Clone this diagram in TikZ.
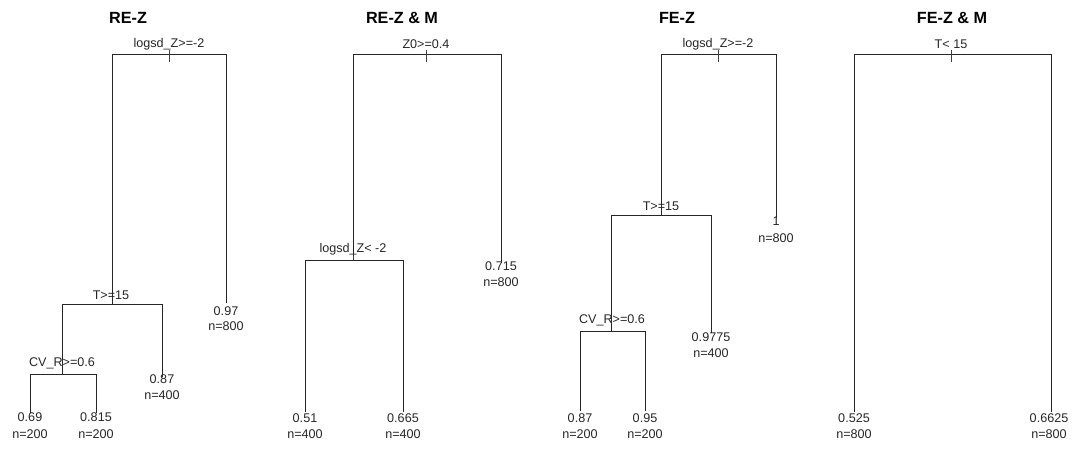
\documentclass[tikz,border=0pt]{standalone}
\usepackage{fontspec}
\setmainfont{Liberation Sans}
\begin{document}
\begin{tikzpicture}[x=1pt,y=-1pt,
  lbl/.style={font=\fontsize{12.6}{14}\selectfont, inner sep=0pt, anchor=base, text=black!85},
  ttl/.style={font=\bfseries\fontsize{16.2}{18}\selectfont, inner sep=0pt, anchor=base},
  branch/.style={draw=black!85, line width=1pt},
  tick/.style={draw=black!75, line width=1pt}]
\useasboundingbox (0,0) rectangle (1075,448);

% ---------- Tree 1: RE-Z ----------
\node[ttl] (t1) at (128,23) {RE-Z};
\coordinate (a1) at (169,54);
\coordinate (a1l) at (112,54); \coordinate (a1r) at (226,54);
\coordinate (b1) at (112,304); \coordinate (b1l) at (62,304); \coordinate (b1r) at (162,304);
\coordinate (c1) at (62,374); \coordinate (c1l) at (30,374); \coordinate (c1r) at (96,374);
\coordinate (l11) at (30,413); \coordinate (l12) at (96,413);
\coordinate (l13) at (162,377); \coordinate (l14) at (226,303);
\draw[branch] (a1l) -- (a1r);
\draw[branch] (a1l) -- (b1);
\draw[branch] (a1r) -- (l14);
\draw[branch] (b1l) -- (b1r);
\draw[branch] (b1l) -- (c1);
\draw[branch] (b1r) -- (l13);
\draw[branch] (c1l) -- (c1r);
\draw[branch] (c1l) -- (l11);
\draw[branch] (c1r) -- (l12);
\draw[tick] (a1) ++(0,-4) -- ++(0,12);
\node[lbl] (s11) at (169,47.5) {logsd\_Z>=-2};
\node[lbl] (s12) at (111,299) {T>=15};
\node[lbl] (s13) at (62,366) {CV\_R>=0.6};
\node[lbl] (v11) at (30,421.7) {0.69};  \node[lbl] (n11) at (30,438.3) {n=200};
\node[lbl] (v12) at (96,421.7) {0.815}; \node[lbl] (n12) at (96,438.3) {n=200};
\node[lbl] (v13) at (162,383.3) {0.87}; \node[lbl] (n13) at (162,399.3) {n=400};
\node[lbl] (v14) at (226,315.3) {0.97}; \node[lbl] (n14) at (226,330.7) {n=800};

% ---------- Tree 2: RE-Z & M ----------
\node[ttl] (t2) at (402,23) {RE-Z \& M};
\coordinate (a2) at (426,54);
\coordinate (a2l) at (353,54); \coordinate (a2r) at (501,54);
\coordinate (b2) at (353,260); \coordinate (b2l) at (305,260); \coordinate (b2r) at (403,260);
\coordinate (l21) at (305,412); \coordinate (l22) at (403,412); \coordinate (l23) at (501,262);
\draw[branch] (a2l) -- (a2r);
\draw[branch] (a2l) -- (b2);
\draw[branch] (a2r) -- (l23);
\draw[branch] (b2l) -- (b2r);
\draw[branch] (b2l) -- (l21);
\draw[branch] (b2r) -- (l22);
\draw[tick] (a2) ++(0,-4) -- ++(0,12);
\draw[tick] (b2) ++(0,-4) -- ++(0,4);
\node[lbl] (s21) at (426,48) {Z0>=0.4};
\node[lbl] (s22) at (353,252.5) {logsd\_Z< -2};
\node[lbl] (v21) at (305,422.5) {0.51};  \node[lbl] (n21) at (305,438.5) {n=400};
\node[lbl] (v22) at (403,422.5) {0.665}; \node[lbl] (n22) at (403,438.5) {n=400};
\node[lbl] (v23) at (501,270.7) {0.715}; \node[lbl] (n23) at (501,286.7) {n=800};

% ---------- Tree 3: FE-Z ----------
\node[ttl] (t3) at (677,23) {FE-Z};
\coordinate (a3) at (718,54);
\coordinate (a3l) at (661,54); \coordinate (a3r) at (776,54);
\coordinate (b3) at (661,215); \coordinate (b3l) at (611,215); \coordinate (b3r) at (711,215);
\coordinate (c3) at (611,331); \coordinate (c3l) at (580,331); \coordinate (c3r) at (645,331);
\coordinate (l31) at (580,411); \coordinate (l32) at (645,411);
\coordinate (l33) at (711,333); \coordinate (l34) at (776,218);
\draw[branch] (a3l) -- (a3r);
\draw[branch] (a3l) -- (b3);
\draw[branch] (a3r) -- (l34);
\draw[branch] (b3l) -- (b3r);
\draw[branch] (b3l) -- (c3);
\draw[branch] (b3r) -- (l33);
\draw[branch] (c3l) -- (c3r);
\draw[branch] (c3l) -- (l31);
\draw[branch] (c3r) -- (l32);
\draw[tick] (a3) ++(0,-4) -- ++(0,12);
\node[lbl] (s31) at (718,47.5) {logsd\_Z>=-2};
\node[lbl] (s32) at (661,210) {T>=15};
\node[lbl] (s33) at (612,323) {CV\_R>=0.6};
\node[lbl] (v31) at (580,422.3) {0.87};   \node[lbl] (n31) at (580,438.3) {n=200};
\node[lbl] (v32) at (645,422.3) {0.95};   \node[lbl] (n32) at (645,438.3) {n=200};
\node[lbl] (v33) at (711,341.7) {0.9775}; \node[lbl] (n33) at (711,357.3) {n=400};
\node[lbl] (v34) at (776,225.7) {1};      \node[lbl] (n34) at (776,242.3) {n=800};

% ---------- Tree 4: FE-Z & M ----------
\node[ttl] (t4) at (952,23) {FE-Z \& M};
\coordinate (a4) at (951,54);
\coordinate (a4l) at (854,54); \coordinate (a4r) at (1051,54);
\coordinate (l41) at (854,412); \coordinate (l42) at (1051,412);
\draw[branch] (a4l) -- (a4r);
\draw[branch] (a4l) -- (l41);
\draw[branch] (a4r) -- (l42);
\draw[tick] (a4) ++(0,-4) -- ++(0,12);
\node[lbl] (s41) at (951,48) {T< 15};
\node[lbl] (v41) at (854,422.3) {0.525};   \node[lbl] (n41) at (854,438.5) {n=800};
\node[lbl] (v42) at (1049,422.3) {0.6625}; \node[lbl] (n42) at (1049,438.5) {n=800};
\end{tikzpicture}
\end{document}
